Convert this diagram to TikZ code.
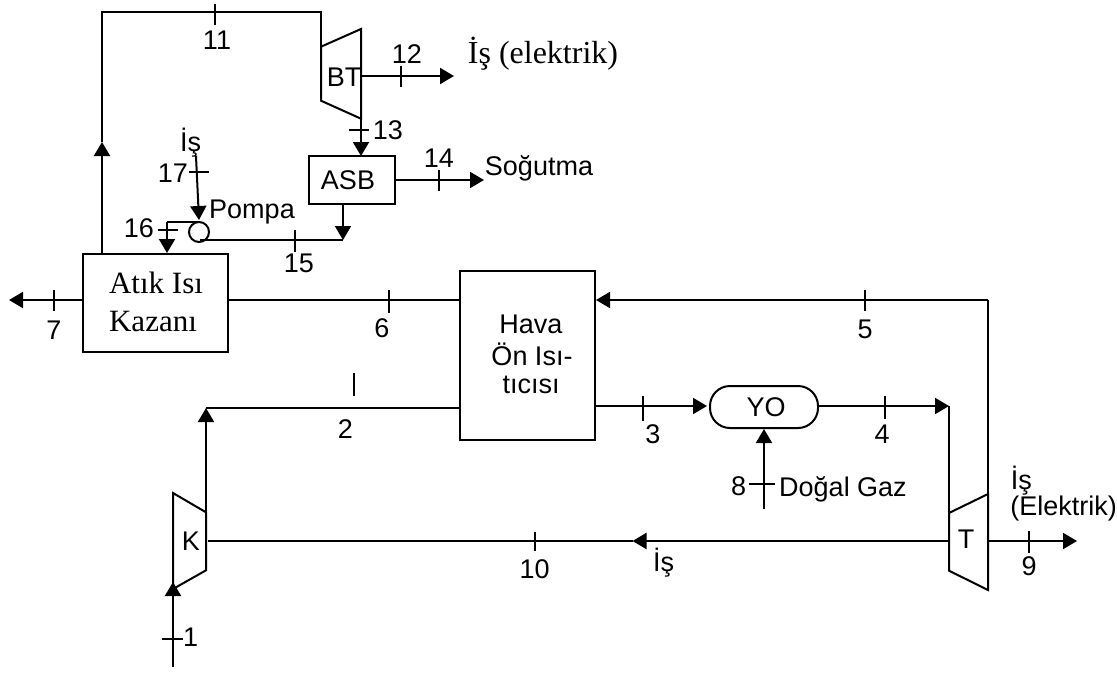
\documentclass[tikz,border=0pt]{standalone}
\usepackage{fontspec}
\setmainfont{Liberation Sans}
\newfontfamily\serifface{Liberation Serif}
\usetikzlibrary{arrows.meta,calc}
\tikzset{
  line/.style={draw=black,line width=2pt,line join=miter},
  flow/.style={line,-{Triangle[length=14pt,width=16pt]}},
  tickmark/.style={draw=black,line width=2pt},
  boxnode/.style={draw=black,line width=2pt,rectangle,inner sep=0pt},
  txt/.style={inner sep=0pt,font=\fontsize{27pt}{30pt}\selectfont},
  stxt/.style={inner sep=0pt,font=\serifface\fontsize{31pt}{36pt}\selectfont},
  stxtb/.style={inner sep=0pt,font=\serifface\fontsize{32pt}{36pt}\selectfont}
}
\newcommand{\vtick}[3]{\draw[tickmark] (#1,#2) -- (#1,#3);}
\newcommand{\htick}[3]{\draw[tickmark] (#1,#3) -- (#2,#3);}
\begin{document}
\begin{tikzpicture}[x=1pt,y=-1pt]
\useasboundingbox (0,0) rectangle (1117,673);
% boxes
\node[boxnode,minimum width=145pt,minimum height=98pt] (boiler) at (155.5,303) {};
\node[boxnode,minimum width=135pt,minimum height=169pt] (hava) at (527.5,355.5) {};
\node[boxnode,minimum width=86pt,minimum height=48pt] (asb) at (352,180) {};
\node[boxnode,rounded corners=20pt,minimum width=108pt,minimum height=42pt] (yo) at (764,407) {};
\node[draw=black,line width=2pt,circle,inner sep=0pt,outer sep=0pt,minimum size=20pt] (pump) at (199,232) {};
% turbines
\draw[line] (321,46.7) -- (361,29) -- (361,118.7) -- (321,100.7) -- cycle;
\draw[line] (949,513) -- (988,494) -- (988,590) -- (949,570.7) -- cycle;
\draw[line] (173,493) -- (206,512.3) -- (206,570.3) -- (173,589) -- cycle;
\coordinate (btin) at (321,46.7);
\coordinate (btout) at (361,118.7);
\coordinate (btshaft) at (361,76);
\coordinate (tin) at (949,517);
\coordinate (ttop) at (988,494);
\coordinate (tshaftL) at (949,541);
\coordinate (tshaftR) at (988,541);
\coordinate (kout) at (206,512.3);
\coordinate (kshaft) at (208,541);
\coordinate (kin) at (173,582);
% labels inside
\node[txt] (tbt) at (344,77) {BT};
\node[txt] (tasb) at (348,180) {ASB};
\node[txt] (tyo) at (766,407) {YO};
\node[txt] (tt) at (966,539) {T};
\node[txt] (tk) at (191,541.7) {K};
\node[stxt] (tatik) at (156,283) {Atık Isı};
\node[stxt] (tkaz) at (153,321) {Kazanı};
\node[txt] (thava) at (531,324) {Hava};
\node[txt] (ton) at (532,354) {Ön Isı-};
\node[txt] (ttic) at (531,385) {tıcısı};
% top loop
\coordinate (a1) at (102,254);
\coordinate (a2) at (102,142);
\coordinate (a3) at (102,12);
\coordinate (a4) at (321,12);
\draw[flow] (a1) -- (a2);
\draw[line] (a2) -- (a3) -- (a4) -- (btin);
\vtick{215}{4}{25}
\node[txt] (n11) at (217,40) {11};
% 12
\coordinate (e12) at (454,76);
\draw[flow] (btshaft) -- (e12);
\vtick{401}{66}{87}
\node[txt] (n12) at (407,54) {12};
\node[stxtb] (telek) at (543,54) {İş (elektrik)};
% 13
\coordinate (asbtop) at (361,156);
\draw[flow] (btout) -- (asbtop);
\htick{349}{369}{130}
\node[txt] (n13) at (388,130) {13};
% 14
\coordinate (e14) at (484,180);
\draw[flow] (asb.east |- e14) -- (e14);
\vtick{439}{170}{191}
\node[txt] (n14) at (439,158) {14};
\node[txt] (tsog) at (539,168) {Soğutma};
% 17
\coordinate (s17) at (196,156);
\coordinate (e17) at (199,220);
\draw[flow] (s17) -- (e17);
\htick{189}{209}{172}
\node[txt] (n17) at (173,173) {17};
\node[txt] (tis1) at (190.6,143) {İş};
\node[txt] (tpompa) at (252,212) {Pompa};
% 16
\coordinate (p16) at (167,222);
\coordinate (e16) at (167,253);
\draw[line] (pump.north) -- (p16);
\draw[flow] (p16) -- (e16);
\htick{158}{178}{230}
\node[txt] (n16) at (139,228) {16};
% 15
\coordinate (p15) at (343,240);
\coordinate (s15) at (200,240);
\draw[line] (s15) -- (p15);
\draw[flow] (asb.south -| p15) -- (p15);
\vtick{295}{230}{252}
\node[txt] (n15) at (299,263) {15};
% 7
\coordinate (e7) at (9,300);
\draw[flow] (boiler.west |- e7) -- (e7);
\vtick{54}{290}{311}
\node[txt] (n7) at (54,330) {7};
% 6
\coordinate (m6) at (228,300);
\draw[line] (m6) -- (hava.west |- m6);
\vtick{389}{290}{313}
\node[txt] (n6) at (382,328) {6};
% 5
\coordinate (c5) at (988,300);
\coordinate (e5) at (596,300);
\draw[line] (ttop) -- (c5);
\draw[flow] (c5) -- (e5);
\vtick{865}{290}{311}
\node[txt] (n5) at (865,329) {5};
% 3
\coordinate (e3) at (707,406);
\draw[flow] (hava.east |- e3) -- (e3);
\vtick{643}{396}{421}
\node[txt] (n3) at (653,434) {3};
% 4
\coordinate (e4) at (949,406);
\draw[flow] (yo.east |- e4) -- (e4);
\draw[line] (e4) -- (tin);
\vtick{885}{396}{419}
\node[txt] (n4) at (882,434) {4};
% 8
\coordinate (s8) at (764,509);
\coordinate (e8) at (764,429);
\draw[flow] (s8) -- (e8);
\htick{749}{775}{484}
\node[txt] (n8) at (738.6,485.7) {8};
\node[txt] (tgaz) at (843,489) {Doğal Gaz};
% 9
\coordinate (e9) at (1077,541);
\draw[flow] (tshaftR) -- (e9);
\vtick{1029}{531}{553}
\node[txt] (n9) at (1029,565.7) {9};
\node[txt] (tis2) at (1021.4,481) {İş};
\node[txt] (telk) at (1063.6,509) {(Elektrik)};
% 10
\coordinate (m10) at (632.5,541);
\draw[flow] (tshaftL) -- (m10);
\draw[line] (m10) -- (kshaft);
\vtick{535}{532}{551}
\node[txt] (n10) at (534.7,569.3) {10};
\node[txt] (tis3) at (663.6,563) {İş};
% 2
\coordinate (c2) at (206,408);
\draw[flow] (kout) -- (c2);
\draw[line] (c2) -- (hava.west |- c2);
\vtick{354}{373}{396}
\node[txt] (n2) at (345.3,429.3) {2};
% 1
\coordinate (s1) at (173,667);
\draw[flow] (s1) -- (kin);
\htick{162}{183}{639}
\node[txt] (n1) at (190.7,637.7) {1};
\end{tikzpicture}
\end{document}
